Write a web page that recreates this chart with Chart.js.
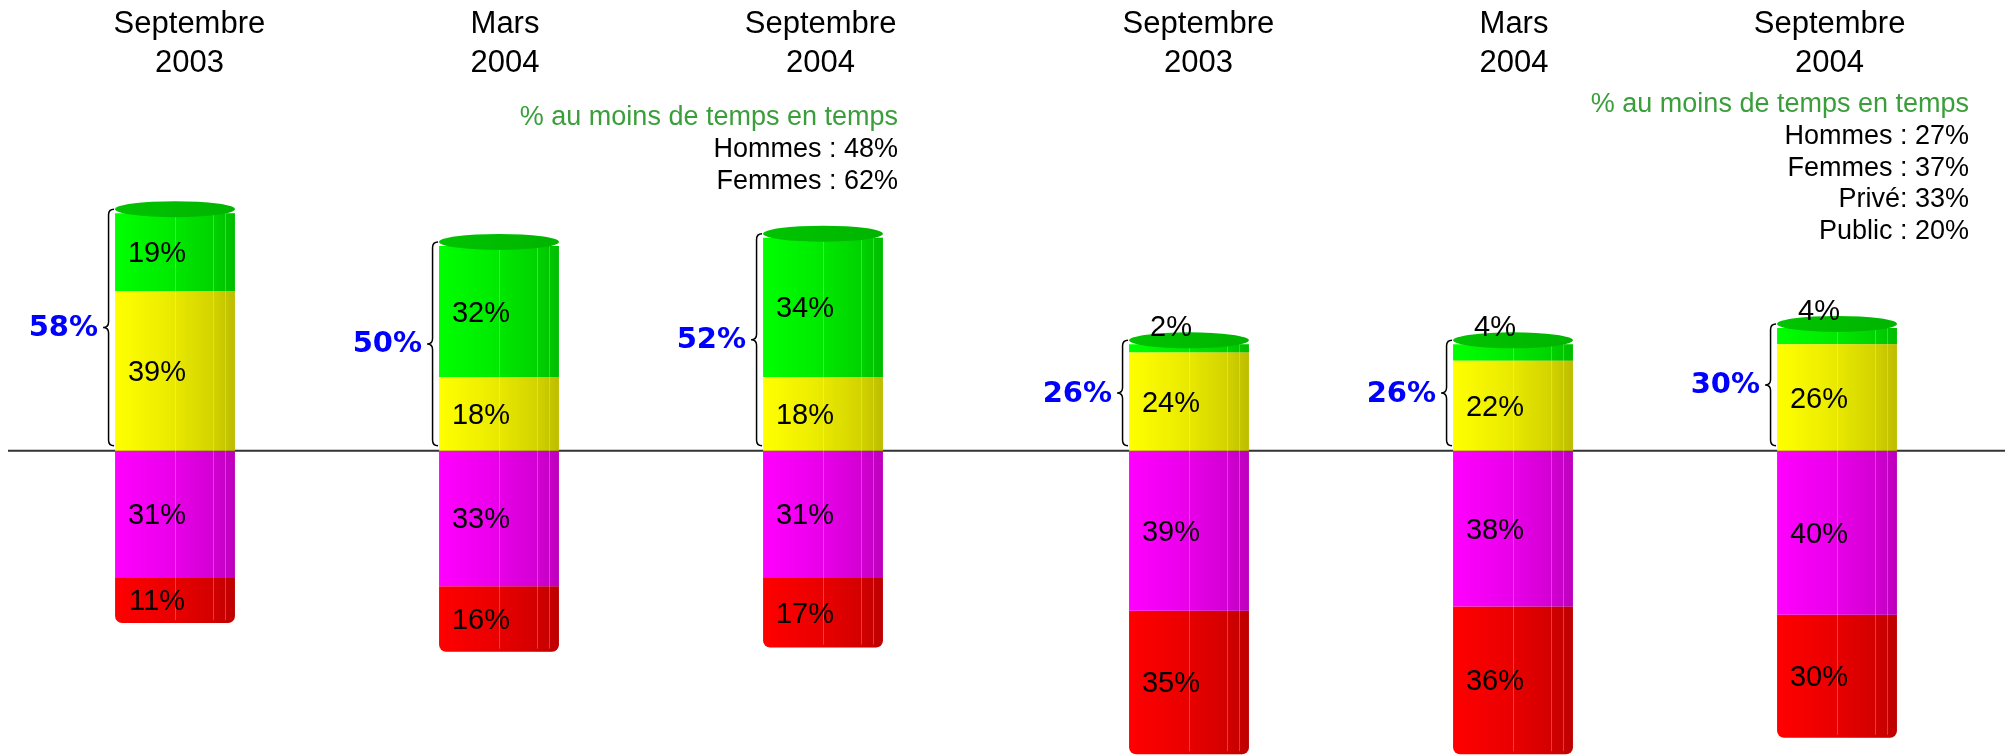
<!DOCTYPE html>
<html><head><meta charset="utf-8">
<script src="https://cdn.jsdelivr.net/npm/chart.js@4"></script>
<style>
html,body{margin:0;padding:0;background:#fff;width:2009px;height:755px;overflow:hidden}
canvas{position:absolute;top:0}
#cA{left:0}#cB{left:1000px}
</style></head>
<body>
<canvas id="cA" width="1000" height="755"></canvas>
<canvas id="cB" width="1009" height="755"></canvas>
<script>
// ---- data ----
const periods = ["Septembre 2003", "Mars 2004", "Septembre 2004"];
// left panel
const yellowA = [39, 18, 18];
const greenA = [19, 32, 34];
const magentaA = [31, 33, 31];
const redA = [11, 16, 17];
const totalsA = [58, 50, 52];
// right panel
const yellowB = [24, 22, 26];
const greenB = [2, 4, 4];
const magentaB = [39, 38, 40];
const redB = [35, 36, 30];
const totalsB = [26, 26, 30];
// notes
const noteTitle = "% au moins de temps en temps";
const notesA = ["Hommes : 48%", "Femmes : 62%"];
const notesB = ["Hommes : 27%", "Femmes : 37%", "Privé: 33%", "Public : 20%"];

const REG = '"Liberation Sans", Arial, sans-serif';

function brace(ctx, xr, y1, y2, w) {
  const xm = xr - w / 2, xl = xr - w, ym = (y1 + y2) / 2, r = w / 2;
  ctx.beginPath();
  ctx.moveTo(xr, y1);
  ctx.quadraticCurveTo(xm, y1, xm, y1 + r);
  ctx.lineTo(xm, ym - r);
  ctx.quadraticCurveTo(xm, ym, xl, ym);
  ctx.quadraticCurveTo(xm, ym, xm, ym + r);
  ctx.lineTo(xm, y2 - r);
  ctx.quadraticCurveTo(xm, y2, xr, y2);
  ctx.stroke();
}

function cylPlugin(cfg) {
  return {
    id: 'cyl',
    beforeDatasetsDraw(chart) {
      const ctx = chart.ctx, y0 = chart.scales.y.getPixelForValue(0);
      ctx.save();
      ctx.strokeStyle = '#333';
      ctx.lineWidth = 2;
      ctx.beginPath();
      ctx.moveTo(cfg.lineFrom, y0);
      ctx.lineTo(cfg.lineTo, y0);
      ctx.stroke();
      ctx.restore();
    },
    afterDatasetsDraw(chart) {
      const ctx = chart.ctx, y0 = chart.scales.y.getPixelForValue(0);
      ctx.save();
      // shading of the cylinders
      chart.data.datasets.forEach((ds, di) => {
        chart.getDatasetMeta(di).data.forEach(el => {
          const p = el.getProps(['x', 'y', 'base', 'width'], true);
          const l = p.x - p.width / 2, top = Math.min(p.y, p.base), h = Math.abs(p.base - p.y);
          const isBottom = di === 3;
          const g = ctx.createLinearGradient(l, 0, l + p.width, 0);
          g.addColorStop(0, 'rgba(0,0,0,0)');
          g.addColorStop(0.45, 'rgba(0,0,0,0.08)');
          g.addColorStop(0.8, 'rgba(0,0,0,0.17)');
          g.addColorStop(1, 'rgba(0,0,0,0.26)');
          ctx.fillStyle = g;
          ctx.beginPath();
          if (isBottom && ctx.roundRect) ctx.roundRect(l, top, p.width, h, [0, 0, 7, 7]);
          else ctx.rect(l, top, p.width, h);
          ctx.fill();
          ctx.strokeStyle = 'rgba(255,255,255,0.25)';
          ctx.lineWidth = 1;
          [0.5, 0.82, 0.92].forEach(f => {
            ctx.beginPath();
            ctx.moveTo(Math.round(l + p.width * f) + 0.5, top);
            ctx.lineTo(Math.round(l + p.width * f) + 0.5, top + h - (isBottom ? 3 : 0));
            ctx.stroke();
          });
        });
      });
      // top caps
      const gMeta = chart.getDatasetMeta(1);
      gMeta.data.forEach(el => {
        const p = el.getProps(['x', 'y', 'width'], true);
        const g = ctx.createLinearGradient(p.x - p.width / 2, 0, p.x + p.width / 2, 0);
        g.addColorStop(0, '#00C400');
        g.addColorStop(1, '#00B400');
        ctx.fillStyle = g;
        ctx.beginPath();
        ctx.ellipse(p.x, p.y - 4, p.width / 2, 8, 0, 0, Math.PI * 2);
        ctx.fill();
      });
      // braces + blue totals
      gMeta.data.forEach((el, i) => {
        const p = el.getProps(['x', 'y', 'width'], true);
        const xr = p.x - p.width / 2 - 1, y1 = p.y - 4, y2 = y0 - 5, w = 11;
        ctx.strokeStyle = '#000';
        ctx.lineWidth = 1.5;
        brace(ctx, xr, y1, y2, w);
        ctx.fillStyle = '#0000FF';
        ctx.font = 'bold 29px "DejaVu Sans", sans-serif';
        ctx.textAlign = 'right';
        ctx.textBaseline = 'middle';
        ctx.fillText(cfg.totals[i] + '%', xr - w - 5, (y1 + y2) / 2 + 1);
      });
      // segment labels
      ctx.fillStyle = '#000';
      ctx.font = '29px ' + REG;
      ctx.textAlign = 'center';
      ctx.textBaseline = 'middle';
      chart.data.datasets.forEach((ds, di) => {
        chart.getDatasetMeta(di).data.forEach((el, i) => {
          const p = el.getProps(['x', 'y', 'base'], true);
          const h = Math.abs(p.base - p.y);
          const v = Math.abs(ds.data[i]);
          const ly = h >= 28 ? (p.y + p.base) / 2 + 2 : Math.min(p.y, p.base) - 16;
          ctx.fillText(v + '%', p.x - 18, ly);
        });
      });
      // period titles
      const xs = chart.scales.x;
      const xm = xs.getPixelForValue(1);
      ctx.font = '31px ' + REG;
      ctx.textBaseline = 'alphabetic';
      periods.forEach((lab, i) => {
        const tx = xm + (xs.getPixelForValue(i) - xm) * 0.974 + cfg.titleDx;
        const parts = lab.split(' ');
        ctx.fillText(parts[0], tx, 33);
        ctx.fillText(parts[1], tx, 72);
      });
      // notes
      ctx.textAlign = 'right';
      ctx.font = '27px ' + REG;
      ctx.fillStyle = '#3A9E3A';
      ctx.fillText(noteTitle, cfg.noteX, cfg.noteY);
      ctx.fillStyle = '#000';
      cfg.notes.forEach((t, k) => ctx.fillText(t, cfg.noteX, cfg.noteY + 31.8 * (k + 1)));
      ctx.restore();
    }
  };
}

function build(id, yellow, green, magenta, red, cfg) {
  return new Chart(document.getElementById(id), {
    type: 'bar',
    data: {
      labels: periods,
      datasets: [
        { label: 'jaune', data: yellow, backgroundColor: '#FFFF00' },
        { label: 'vert', data: green, backgroundColor: '#00FF00' },
        { label: 'magenta', data: magenta.map(v => -v), backgroundColor: '#FF00FF' },
        { label: 'rouge', data: red.map(v => -v), backgroundColor: '#FF0000', borderRadius: 7 }
      ]
    },
    options: {
      responsive: false,
      animation: false,
      devicePixelRatio: 1,
      layout: { padding: { left: cfg.padL, right: cfg.padR, top: 0, bottom: 0 } },
      datasets: { bar: { categoryPercentage: 0.37, barPercentage: 1, borderWidth: 0 } },
      plugins: { legend: { display: false }, tooltip: { enabled: false } },
      scales: {
        x: { stacked: true, display: false },
        y: { stacked: true, display: false, min: -74.2, max: 110 }
      }
    },
    plugins: [cylPlugin(cfg)]
  });
}

build('cA', yellowA, greenA, magentaA, redA, {
  padL: 13, padR: 15, totals: totalsA, notes: notesA,
  noteX: 898, noteY: 125, titleDx: 6, lineFrom: 8, lineTo: 1000
});
build('cB', yellowB, greenB, magentaB, redB, {
  padL: 27, padR: 10, totals: totalsB, notes: notesB,
  noteX: 969, noteY: 112, titleDx: 1, lineFrom: 0, lineTo: 1005
});
</script>
</body></html>
